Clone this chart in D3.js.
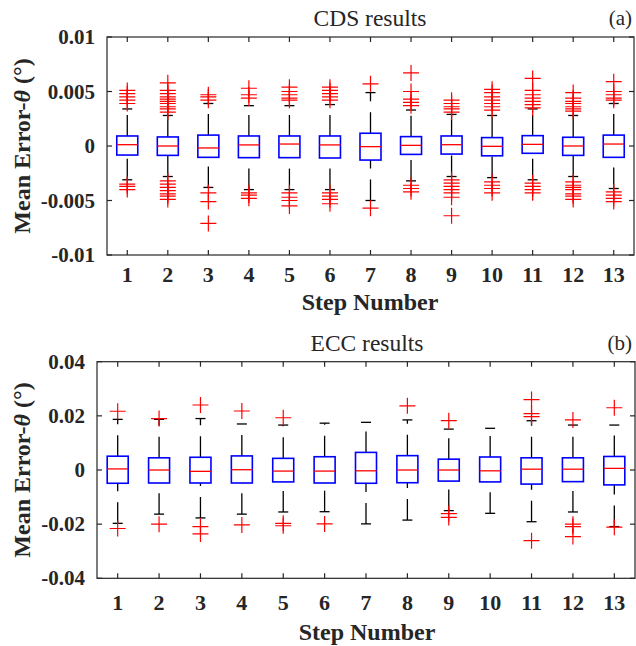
<!DOCTYPE html>
<html>
<head>
<meta charset="utf-8">
<script src="https://cdn.jsdelivr.net/npm/d3@7"></script>
<style>
  body { margin: 0; background: #fff; }
  svg { display: block; }
  text { font-family: "Liberation Serif", "Times New Roman", serif; fill: #262626; }
</style>
</head>
<body>
<svg id="chart" width="636" height="646"></svg>
<script>
// step numbers on the x axis
const steps = [1, 2, 3, 4, 5, 6, 7, 8, 9, 10, 11, 12, 13];

// (a) CDS results
const cdsQ1     = [-0.00083, -0.00086, -0.00104, -0.00107, -0.00107, -0.0011, -0.00129, -0.00077, -0.00074, -0.0009, -0.00067, -0.00086, -0.00104];
const cdsMedian = [0.00012, 0, -0.00018, 0.0001, 0.00018, 0.0001, -0.00006, 0.00006, 0.00012, -0.00003, 0.00015, 0, 0.00018];
const cdsQ3     = [0.00092, 0.00083, 0.001, 0.00092, 0.00092, 0.00092, 0.00117, 0.00086, 0.00092, 0.00077, 0.00095, 0.0008, 0.001];
const cdsLow    = [-0.0031, -0.0028, -0.0038, -0.004, -0.004, -0.004, -0.005, -0.0032, -0.0028, -0.0029, -0.0031, -0.0028, -0.0039];
const cdsHigh   = [0.0034, 0.0028, 0.0039, 0.0037, 0.0037, 0.0038, 0.0049, 0.0033, 0.0029, 0.0028, 0.0034, 0.0028, 0.0039];
const cdsOutliers = [
  [0.0051, 0.0048, 0.0045, 0.0042, 0.0039, -0.0035, -0.0037, -0.004],
  [0.0058, 0.0051, 0.0048, 0.0045, 0.0043, 0.0041, 0.0039, 0.0036, 0.0034, 0.0031, -0.0032, -0.0035, -0.0038, -0.0041, -0.0044, -0.0046, -0.0049],
  [0.0047, 0.0045, 0.0042, -0.0043, -0.0051, -0.0071],
  [0.0053, 0.0047, 0.0044, -0.0043, -0.0045, -0.0048],
  [0.0054, 0.005, 0.0047, 0.0044, 0.0042, -0.0043, -0.0047, -0.005, -0.0055],
  [0.0054, 0.0051, 0.0048, 0.0045, 0.0042, -0.0043, -0.0046, -0.0049, -0.0053],
  [0.0057, -0.0057],
  [0.0067, 0.005, 0.0043, 0.004, 0.0037, -0.0036, -0.0039, -0.0042],
  [0.0042, 0.0039, 0.0036, 0.0034, 0.0031, -0.0031, -0.0034, -0.0037, -0.004, -0.0043, -0.0047, -0.0064],
  [0.0052, 0.0049, 0.0045, 0.0042, 0.0039, 0.0036, 0.0033, -0.0033, -0.0036, -0.0039, -0.0043],
  [0.0062, 0.0051, 0.0047, 0.0044, 0.0041, 0.0038, 0.0035, -0.0034, -0.0037, -0.004, -0.0043],
  [0.0049, 0.0044, 0.0041, 0.0039, 0.0036, 0.0034, 0.0032, -0.0033, -0.0036, -0.0038, -0.004, -0.0044, -0.0046, -0.0049],
  [0.0059, 0.005, 0.0047, 0.0044, 0.0042, -0.0042, -0.0045, -0.0048, -0.0051]
];
const cdsTicks = [0.01, 0.005, 0, -0.005, -0.01];
const cdsTickLabels = ["0.01", "0.005", "0", "-0.005", "-0.01"];

// (b) ECC results
const eccQ1     = [-0.0049, -0.0048, -0.0048, -0.0048, -0.0044, -0.0048, -0.0049, -0.0047, -0.0041, -0.0044, -0.0052, -0.0043, -0.0055];
const eccMedian = [0.0004, 0, -0.0005, 0.0001, -0.0004, -0.0004, -0.0003, 0, 0, -0.0003, 0.0003, 0.0003, 0.0006];
const eccQ3     = [0.0051, 0.0045, 0.0047, 0.0052, 0.0043, 0.0049, 0.0065, 0.0053, 0.004, 0.0048, 0.0045, 0.0045, 0.005];
const eccLow    = [-0.0197, -0.0163, -0.0177, -0.0163, -0.0155, -0.0154, -0.0199, -0.0185, -0.015, -0.016, -0.0191, -0.0155, -0.0209];
const eccHigh   = [0.0187, 0.0187, 0.019, 0.017, 0.0166, 0.0173, 0.0176, 0.0185, 0.0151, 0.0154, 0.0182, 0.0166, 0.0166];
const eccOutliers = [
  [0.0217, -0.0216],
  [0.019, -0.02],
  [0.024, -0.0209, -0.0236],
  [0.0218, -0.0203],
  [0.0193, -0.0197, -0.0206],
  [-0.0199],
  [],
  [0.0237],
  [0.0182, -0.0161, -0.0175],
  [],
  [0.026, 0.0208, 0.0197, -0.0261],
  [0.0185, -0.02, -0.0209, -0.0246],
  [0.023, -0.0211]
];
const eccTicks = [0.04, 0.02, 0, -0.02, -0.04];
const eccTickLabels = ["0.04", "0.02", "0", "-0.02", "-0.04"];

const svg = d3.select('#chart');
const axisColor = '#262626';

function drawPanel(p) {
  const x = d3.scaleLinear().domain([0.5, 13.5]).range([p.left, p.right]);
  const y = d3.scaleLinear().domain([p.ticks[p.ticks.length - 1], p.ticks[0]]).range([p.bottom, p.top]);
  const g = svg.append('g');

  // frame
  g.append('rect')
    .attr('x', p.left).attr('y', p.top)
    .attr('width', p.right - p.left).attr('height', p.bottom - p.top)
    .attr('fill', 'none').attr('stroke', axisColor).attr('stroke-width', 1.2);

  // inward ticks on all four sides
  steps.forEach((s) => {
    g.append('line').attr('x1', x(s)).attr('x2', x(s)).attr('y1', p.bottom).attr('y2', p.bottom - 5)
      .attr('stroke', axisColor).attr('stroke-width', 1.2);
    g.append('line').attr('x1', x(s)).attr('x2', x(s)).attr('y1', p.top).attr('y2', p.top + 5)
      .attr('stroke', axisColor).attr('stroke-width', 1.2);
    g.append('text').attr('x', x(s)).attr('y', p.xLabelY)
      .attr('text-anchor', 'middle').attr('font-size', 22).attr('font-weight', 'bold')
      .text(s);
  });
  p.ticks.forEach((t, i) => {
    g.append('line').attr('x1', p.left).attr('x2', p.left + 5).attr('y1', y(t)).attr('y2', y(t))
      .attr('stroke', axisColor).attr('stroke-width', 1.2);
    g.append('line').attr('x1', p.right).attr('x2', p.right - 5).attr('y1', y(t)).attr('y2', y(t))
      .attr('stroke', axisColor).attr('stroke-width', 1.2);
    g.append('text').attr('x', p.left - 12).attr('y', y(t) + 7)
      .attr('text-anchor', 'end').attr('font-size', 21).attr('font-weight', 'bold')
      .text(p.tickLabels[i]);
  });

  const boxW = 21, capW = 10;
  steps.forEach((s, i) => {
    const cx = x(s);
    // whiskers, dashed, drawn from the lower value upward
    g.append('line').attr('x1', cx).attr('x2', cx).attr('y1', y(p.q3[i])).attr('y2', y(p.high[i]))
      .attr('stroke', '#000').attr('stroke-width', 1.3).attr('stroke-dasharray', '21 11');
    g.append('line').attr('x1', cx).attr('x2', cx).attr('y1', y(p.low[i])).attr('y2', y(p.q1[i]))
      .attr('stroke', '#000').attr('stroke-width', 1.3).attr('stroke-dasharray', '21 11');
    [p.high[i], p.low[i]].forEach((v) => {
      g.append('line').attr('x1', cx - capW / 2).attr('x2', cx + capW / 2).attr('y1', y(v)).attr('y2', y(v))
        .attr('stroke', '#000').attr('stroke-width', 1.3);
    });
    // box
    g.append('rect')
      .attr('x', cx - boxW / 2).attr('y', y(p.q3[i]))
      .attr('width', boxW).attr('height', y(p.q1[i]) - y(p.q3[i]))
      .attr('fill', 'none').attr('stroke', '#0000ff').attr('stroke-width', 1.6);
    g.append('line').attr('x1', cx - boxW / 2).attr('x2', cx + boxW / 2)
      .attr('y1', y(p.median[i])).attr('y2', y(p.median[i]))
      .attr('stroke', '#ff0000').attr('stroke-width', 1.3);
    // outliers
    p.outliers[i].forEach((v) => {
      const yy = y(v);
      g.append('path')
        .attr('d', `M${cx - 8},${yy}H${cx + 8}M${cx},${yy - 8}V${yy + 8}`)
        .attr('stroke', '#ff0000').attr('stroke-width', 1.2).attr('fill', 'none');
    });
  });

  // titles and labels
  g.append('text').attr('x', p.titleX).attr('y', p.top - 11)
    .attr('text-anchor', 'middle').attr('font-size', 23.5).text(p.title);
  g.append('text').attr('x', 632).attr('y', p.top - 12)
    .attr('text-anchor', 'end').attr('font-size', 21).text(p.tag);
  g.append('text').attr('x', p.titleX).attr('y', p.xTitleY)
    .attr('text-anchor', 'middle').attr('font-size', 24).attr('font-weight', 'bold').text('Step Number');
  const yl = g.append('text')
    .attr('transform', `translate(30,${(p.top + p.bottom) / 2}) rotate(-90)`)
    .attr('text-anchor', 'middle').attr('font-size', 24).attr('font-weight', 'bold');
  yl.append('tspan').text('Mean Error-');
  yl.append('tspan').attr('font-style', 'italic').text('θ');
  yl.append('tspan').text(' (°)');
}

drawPanel({
  left: 107, right: 634, top: 37, bottom: 255,
  ticks: cdsTicks, tickLabels: cdsTickLabels,
  q1: cdsQ1, median: cdsMedian, q3: cdsQ3, low: cdsLow, high: cdsHigh, outliers: cdsOutliers,
  title: 'CDS results', tag: '(a)', titleX: 370, xLabelY: 282, xTitleY: 310
});
drawPanel({
  left: 97, right: 635, top: 361.7, bottom: 578.3,
  ticks: eccTicks, tickLabels: eccTickLabels,
  q1: eccQ1, median: eccMedian, q3: eccQ3, low: eccLow, high: eccHigh, outliers: eccOutliers,
  title: 'ECC results', tag: '(b)', titleX: 367, xLabelY: 610, xTitleY: 640
});
</script>
</body>
</html>
